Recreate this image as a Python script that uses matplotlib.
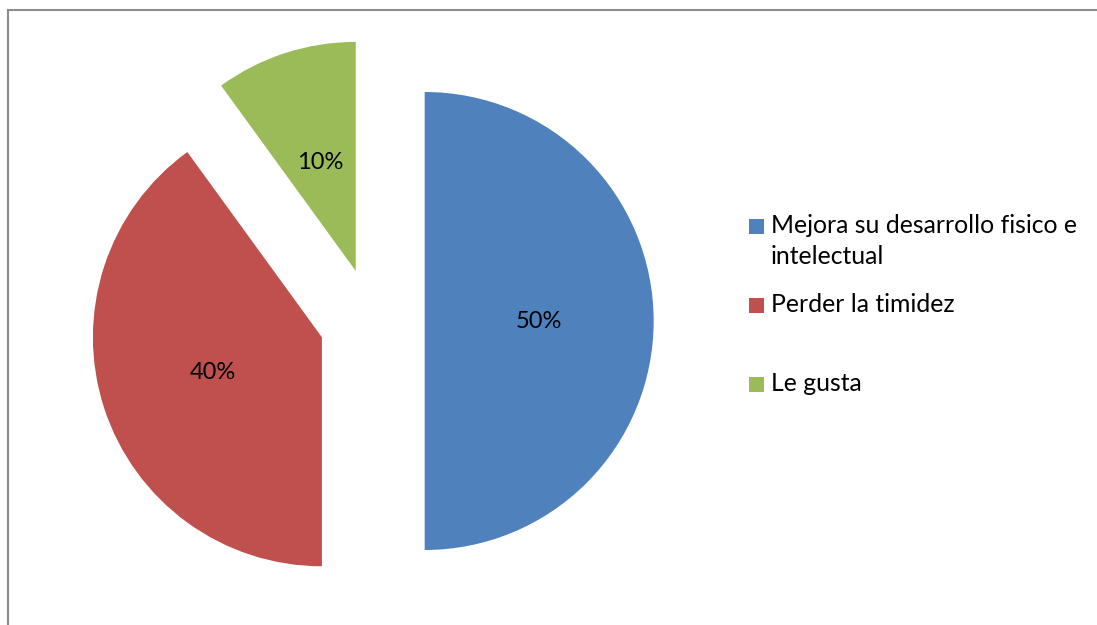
import matplotlib
matplotlib.use("Agg")
import matplotlib.pyplot as plt
from matplotlib.patches import Rectangle
from matplotlib.lines import Line2D

categories = ["Mejora su desarrollo fisico e\nintelectual", "Perder la timidez", "Le gusta"]
values = [50, 40, 10]
colors = ["#4F81BD", "#C0504D", "#9BBB59"]

plt.rcParams["font.family"] = ["Lato", "DejaVu Sans"]

W, H = 1097, 625
fig = plt.figure(figsize=(W / 100, H / 100), dpi=100)
ax = fig.add_axes([0, 0, 1, 1])

R = 229
wedges, texts, autotexts = ax.pie(
    values, colors=colors, startangle=90, counterclock=False,
    explode=[0.23 * R] * len(values), center=(372, H - 321), radius=R,
    autopct=lambda p: f"{p:.0f}%", pctdistance=0.5,
    wedgeprops=dict(linewidth=0), textprops=dict(fontsize=17, color="#000000"),
)
ax.set_xlim(0, W)
ax.set_ylim(0, H)
ax.set_aspect("equal")
ax.axis("off")

# chart border (left and top visible)
ax.add_line(Line2D([8, 8], [0, H - 10], color="#8C8C8C", lw=1.5))
ax.add_line(Line2D([8, W], [H - 10, H - 10], color="#8C8C8C", lw=1.5))

# legend
ys = [226, 305, 384]
for y, c, lab in zip(ys, colors, categories):
    ax.add_patch(Rectangle((749, H - y - 7.5), 15, 15, color=c, lw=0))
    for k, line in enumerate(lab.split("\n")):
        ax.text(771, H - y - 7 - 31 * k, line, fontsize=17.8, va="baseline",
                ha="left", color="#000000")

fig.savefig("out.png", dpi=100)
